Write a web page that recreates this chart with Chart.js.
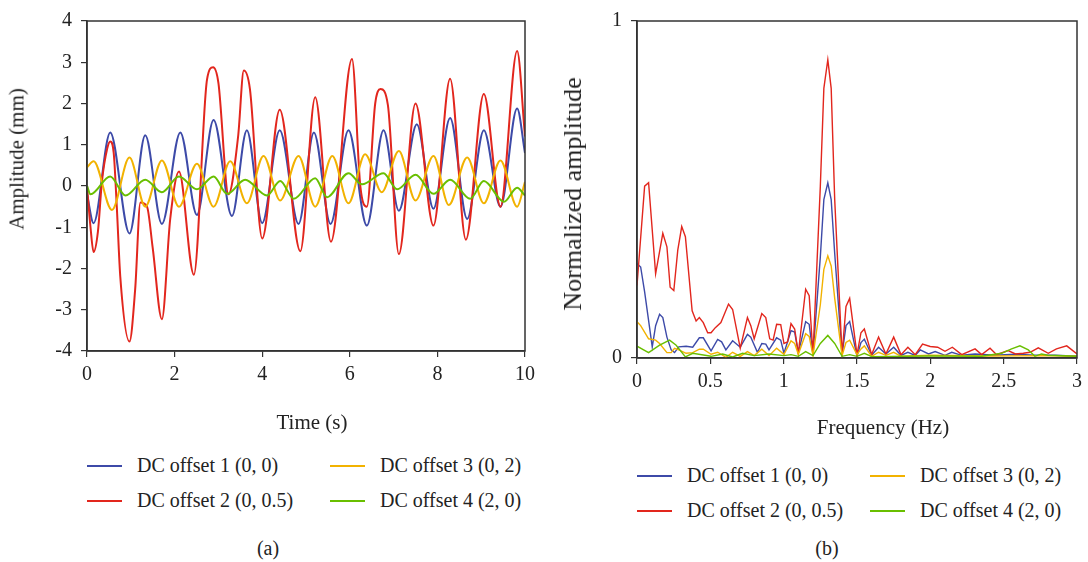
<!DOCTYPE html>
<html>
<head>
<meta charset="utf-8">
<script src="https://cdn.jsdelivr.net/npm/chart.js@4/dist/chart.umd.min.js"></script>
<style>
body { margin: 0; width: 1088px; height: 562px; background: #fff; position: relative; overflow: hidden;
       font-family: "Liberation Serif", serif; color: #222; }
canvas { position: absolute; top: 0; }
.leg { position: absolute; font-size: 20px; line-height: 22px; white-space: nowrap; }
.leg i { display: inline-block; width: 35px; height: 2px; vertical-align: middle; margin-right: 15px; position: relative; top: -1px; }
.txt { position: absolute; white-space: nowrap; line-height: 1; transform: translate(-50%, -50%); }
.rot { transform: translate(-50%, -50%) rotate(-90deg); }
</style>
</head>
<body>
<canvas id="timeChart" width="545" height="440" style="left:0"></canvas>
<canvas id="freqChart" width="538" height="445" style="left:550px"></canvas>
<div id="legends"></div>
<div class="txt" style="left:312px;top:422px;font-size:21px">Time (s)</div>
<div class="txt rot" style="left:17px;top:159px;font-size:21px">Amplitude (mm)</div>
<div class="txt" style="left:883px;top:427px;font-size:21px">Frequency (Hz)</div>
<div class="txt rot" style="left:573px;top:194px;font-size:26px">Normalized amplitude</div>
<div class="txt" style="left:268px;top:548px;font-size:20px">(a)</div>
<div class="txt" style="left:827px;top:548px;font-size:20px">(b)</div>
<script>
// (a) time response, amplitude in mm
const blueT = [0, 0.15, 0.53, 0.97, 1.33, 1.71, 2.13, 2.51, 2.89, 3.31, 3.65, 4.0, 4.4, 4.83, 5.18, 5.56, 5.97, 6.39, 6.77, 7.12, 7.53, 7.91, 8.29, 8.68, 9.06, 9.44, 9.82, 10];
const blueV = [-0.2, -0.9, 1.3, -1.15, 1.23, -0.92, 1.3, -0.7, 1.6, -0.73, 1.35, -0.9, 1.35, -0.92, 1.3, -0.92, 1.35, -0.96, 1.35, -0.6, 1.5, -0.55, 1.65, -0.8, 1.35, -0.5, 1.88, 0.8];

const redT = [0, 0.08, 0.15, 0.25, 0.34, 0.46, 0.53, 0.61, 0.68, 0.76, 0.97, 1.1, 1.22, 1.37, 1.5, 1.71, 1.9, 2.1, 2.44, 2.74, 2.88, 3.0, 3.23, 3.45, 3.58, 3.72, 4.0, 4.4, 4.87, 5.21, 5.57, 6.05, 6.24, 6.39, 6.58, 6.7, 6.87, 7.12, 7.5, 7.91, 8.29, 8.65, 9.06, 9.44, 9.82, 10];
const redV = [0, -1.0, -1.6, -1.1, 0.1, 0.9, 1.08, 0.8, -0.5, -2.2, -3.77, -2.5, -0.4, -0.5, -1.5, -3.23, -0.8, 0.35, -2.15, 2.58, 2.88, 2.5, -0.2, 1.2, 2.8, 2.35, -1.27, 1.85, -1.58, 2.15, -1.35, 3.08, 0, -0.5, 2.0, 2.35, 1.96, -1.65, 2.0, -0.96, 2.6, -1.3, 2.23, -0.5, 3.27, 1.2];

const yellowT = [0, 0.15, 0.57, 0.97, 1.33, 1.71, 2.1, 2.51, 2.89, 3.27, 3.65, 4.03, 4.41, 4.83, 5.21, 5.6, 5.97, 6.35, 6.73, 7.12, 7.5, 7.91, 8.26, 8.68, 9.06, 9.44, 9.82, 10];
const yellowV = [0.45, 0.6, -0.58, 0.69, -0.5, 0.62, -0.5, 0.54, -0.5, 0.6, -0.42, 0.73, -0.35, 0.73, -0.5, 0.73, -0.42, 0.77, -0.15, 0.85, -0.35, 0.73, -0.46, 0.69, -0.42, 0.62, -0.5, 0.1];

const greenT = [0, 0.08, 0.53, 0.88, 1.33, 1.71, 2.1, 2.51, 2.89, 3.2, 3.61, 4.11, 4.41, 4.72, 5.21, 5.48, 5.97, 6.28, 6.77, 7.08, 7.5, 7.91, 8.29, 8.75, 9.06, 9.52, 9.82, 10];
const greenV = [0, -0.2, 0.23, -0.23, 0.15, -0.15, 0.23, -0.08, 0.23, -0.19, 0.15, -0.23, 0.12, -0.31, 0.19, -0.27, 0.31, 0.04, 0.31, -0.08, 0.27, -0.19, 0.15, -0.31, 0.12, -0.38, -0.04, -0.23];

// (b) spectrum, normalized amplitude
const redF = [0, 0.052, 0.079, 0.127, 0.176, 0.204, 0.226, 0.251, 0.278, 0.305, 0.33, 0.376, 0.403, 0.425, 0.452, 0.482, 0.505, 0.534, 0.572, 0.624, 0.652, 0.704, 0.753, 0.776, 0.799, 0.851, 0.878, 0.905, 0.928, 0.952, 0.98, 1.002, 1.027, 1.05, 1.075, 1.1, 1.15, 1.174, 1.2, 1.25, 1.274, 1.301, 1.324, 1.348, 1.398, 1.425, 1.45, 1.5, 1.527, 1.55, 1.6, 1.647, 1.697, 1.75, 1.8, 1.847, 1.897, 1.947, 1.999, 2.05, 2.1, 2.15, 2.214, 2.305, 2.35, 2.407, 2.452, 2.53, 2.58, 2.634, 2.68, 2.736, 2.804, 2.86, 2.93, 3.0];
const redA = [0.215, 0.51, 0.52, 0.25, 0.37, 0.33, 0.21, 0.2, 0.32, 0.39, 0.36, 0.14, 0.11, 0.12, 0.105, 0.075, 0.075, 0.09, 0.105, 0.16, 0.144, 0.029, 0.12, 0.096, 0.057, 0.132, 0.12, 0.057, 0.053, 0.1, 0.099, 0.043, 0.048, 0.102, 0.086, 0.014, 0.204, 0.185, 0.01, 0.51, 0.8, 0.885, 0.8, 0.47, 0.01, 0.153, 0.177, 0.01, 0.075, 0.086, 0.01, 0.062, 0.012, 0.062, 0.01, 0.032, 0.01, 0.041, 0.034, 0.032, 0.02, 0.032, 0.01, 0.027, 0.01, 0.029, 0.01, 0.022, 0.012, 0.014, 0.017, 0.03, 0.014, 0.027, 0.036, 0.012];

const blueF = [0, 0.025, 0.052, 0.104, 0.127, 0.154, 0.176, 0.204, 0.233, 0.256, 0.285, 0.335, 0.38, 0.425, 0.452, 0.505, 0.55, 0.577, 0.606, 0.652, 0.704, 0.753, 0.776, 0.821, 0.851, 0.878, 0.9, 0.952, 0.98, 1.002, 1.05, 1.075, 1.1, 1.15, 1.174, 1.2, 1.25, 1.274, 1.301, 1.324, 1.348, 1.398, 1.425, 1.45, 1.5, 1.527, 1.55, 1.6, 1.647, 1.697, 1.75, 1.8, 1.847, 1.897, 1.931, 1.988, 2.033, 2.1, 2.146, 2.214, 2.305, 2.44, 2.58, 2.713, 2.85, 3.0];
const blueA = [0.28, 0.27, 0.196, 0.033, 0.096, 0.13, 0.12, 0.062, 0.024, 0.016, 0.033, 0.035, 0.032, 0.06, 0.06, 0.021, 0.055, 0.048, 0.024, 0.051, 0.032, 0.07, 0.062, 0.017, 0.043, 0.041, 0.024, 0.06, 0.053, 0.014, 0.081, 0.077, 0.014, 0.108, 0.1, 0.01, 0.3, 0.47, 0.52, 0.47, 0.31, 0.01, 0.096, 0.108, 0.005, 0.046, 0.056, 0.008, 0.032, 0.012, 0.032, 0.008, 0.017, 0.008, 0.024, 0.012, 0.019, 0.008, 0.017, 0.008, 0.012, 0.008, 0.011, 0.008, 0.008, 0.005];

const yellowF = [0, 0.025, 0.079, 0.127, 0.154, 0.204, 0.233, 0.256, 0.285, 0.335, 0.38, 0.425, 0.452, 0.505, 0.55, 0.606, 0.652, 0.704, 0.753, 0.799, 0.851, 0.9, 0.952, 1.002, 1.05, 1.075, 1.1, 1.15, 1.174, 1.2, 1.25, 1.274, 1.301, 1.324, 1.348, 1.398, 1.425, 1.45, 1.5, 1.527, 1.55, 1.6, 1.647, 1.697, 1.75, 1.8, 2.0, 2.4, 2.8, 3.0];
const yellowA = [0.108, 0.096, 0.057, 0.053, 0.043, 0.016, 0.016, 0.029, 0.024, 0.014, 0.016, 0.026, 0.026, 0.011, 0.017, 0.002, 0.017, 0.005, 0.019, 0.007, 0.026, 0.007, 0.029, 0.011, 0.051, 0.043, 0.011, 0.072, 0.064, 0.007, 0.158, 0.263, 0.303, 0.273, 0.177, 0.007, 0.046, 0.053, 0.01, 0.027, 0.036, 0.005, 0.017, 0.008, 0.017, 0.005, 0.008, 0.006, 0.007, 0.005];

const greenF = [0, 0.079, 0.154, 0.222, 0.267, 0.33, 0.38, 0.505, 0.584, 0.652, 0.72, 0.799, 0.9, 1.002, 1.05, 1.1, 1.15, 1.2, 1.25, 1.301, 1.348, 1.398, 1.45, 1.5, 1.55, 1.6, 2.0, 2.35, 2.486, 2.554, 2.611, 2.668, 2.713, 2.758, 2.8, 3.0];
const greenA = [0.035, 0.016, 0.038, 0.053, 0.038, 0.003, 0.014, 0.005, 0.012, 0.003, 0.014, 0.007, 0.012, 0.007, 0.01, 0.005, 0.019, 0.007, 0.043, 0.067, 0.043, 0.005, 0.01, 0.005, 0.014, 0.004, 0.006, 0.005, 0.014, 0.027, 0.036, 0.024, 0.005, 0.012, 0.008, 0.005];

const seriesNames = ["DC offset 1 (0, 0)", "DC offset 2 (0, 0.5)", "DC offset 3 (0, 2)", "DC offset 4 (2, 0)"];
const colors = ["#3d4aa8", "#e2261d", "#f2b200", "#69bf00"];

Chart.defaults.font.family = '"Liberation Serif", serif';
Chart.defaults.color = "#222";

const pts = (xs, ys) => xs.map((x, i) => ({ x, y: ys[i] }));

const frame = {
    id: "frame",
    afterDraw(chart) {
        const { ctx, chartArea: a } = chart;
        ctx.save();
        ctx.strokeStyle = "#333";
        ctx.lineWidth = 1.5;
        ctx.strokeRect(a.left, a.top, a.right - a.left, a.bottom - a.top);
        ctx.restore();
    }
};

function makeDatasets(list, smooth) {
    // lower order is drawn last, so green ends up on top
    return list.map((d, i) => ({
        label: seriesNames[i],
        data: pts(d[0], d[1]),
        borderColor: colors[i],
        borderWidth: smooth ? 2 : 1.4,
        pointRadius: 0,
        fill: false,
        order: 4 - i,
        cubicInterpolationMode: smooth ? "monotone" : "default",
        tension: 0
    }));
}

function axis(opts) {
    return Object.assign({
        type: "linear",
        grid: { drawOnChartArea: false, drawTicks: true, tickLength: 6, color: "#333", lineWidth: 1.2 },
        border: { color: "#333", width: 1.5 },
    }, opts);
}

const tickFont = { size: 20 };

new Chart(document.getElementById("timeChart"), {
    type: "line",
    data: { datasets: makeDatasets([[blueT, blueV], [redT, redV], [yellowT, yellowV], [greenT, greenV]], true) },
    options: {
        responsive: false,
        animation: false,
        devicePixelRatio: 1,
        layout: { padding: { left: 0, top: 5, right: 20, bottom: 0 } },
        plugins: { legend: { display: false }, tooltip: { enabled: false } },
        scales: {
            x: axis({
                min: 0, max: 10,
                ticks: { stepSize: 2, padding: 6, maxRotation: 0, font: tickFont, callback: v => String(v) },
                afterFit: s => { s.height = 89; }
            }),
            y: axis({
                min: -4, max: 4,
                ticks: { stepSize: 1, padding: 9, font: tickFont, callback: v => String(v) },
                afterFit: s => { s.width = 87; }
            })
        }
    },
    plugins: [frame]
});

new Chart(document.getElementById("freqChart"), {
    type: "line",
    data: { datasets: makeDatasets([[blueF, blueA], [redF, redA], [yellowF, yellowA], [greenF, greenA]], false) },
    options: {
        responsive: false,
        animation: false,
        devicePixelRatio: 1,
        layout: { padding: { left: 0, top: 10, right: 10, bottom: 0 } },
        plugins: { legend: { display: false }, tooltip: { enabled: false } },
        scales: {
            x: axis({
                min: 0, max: 3,
                ticks: { stepSize: 0.5, padding: 6, maxRotation: 0, font: tickFont, callback: v => String(v) },
                afterFit: s => { s.height = 87; }
            }),
            y: axis({
                min: 0, max: 1,
                ticks: { stepSize: 1, padding: 9, font: tickFont, callback: v => String(v) },
                afterFit: s => { s.width = 87; }
            })
        }
    },
    plugins: [frame]
});

// legends: two columns, series 1/3 on the first row, 2/4 on the second
function legend(x1, x2, y1, y2) {
    const spots = [[x1, y1], [x1, y2], [x2, y1], [x2, y2]];
    const box = document.getElementById("legends");
    seriesNames.forEach((name, i) => {
        const el = document.createElement("div");
        el.className = "leg";
        el.style.left = spots[i][0] + "px";
        el.style.top = (spots[i][1] - 11) + "px";
        el.innerHTML = `<i style="background:${colors[i]}"></i>${name}`;
        box.appendChild(el);
    });
}
legend(87, 330, 465, 500);
legend(637, 870, 475, 510);
</script>
</body>
</html>
